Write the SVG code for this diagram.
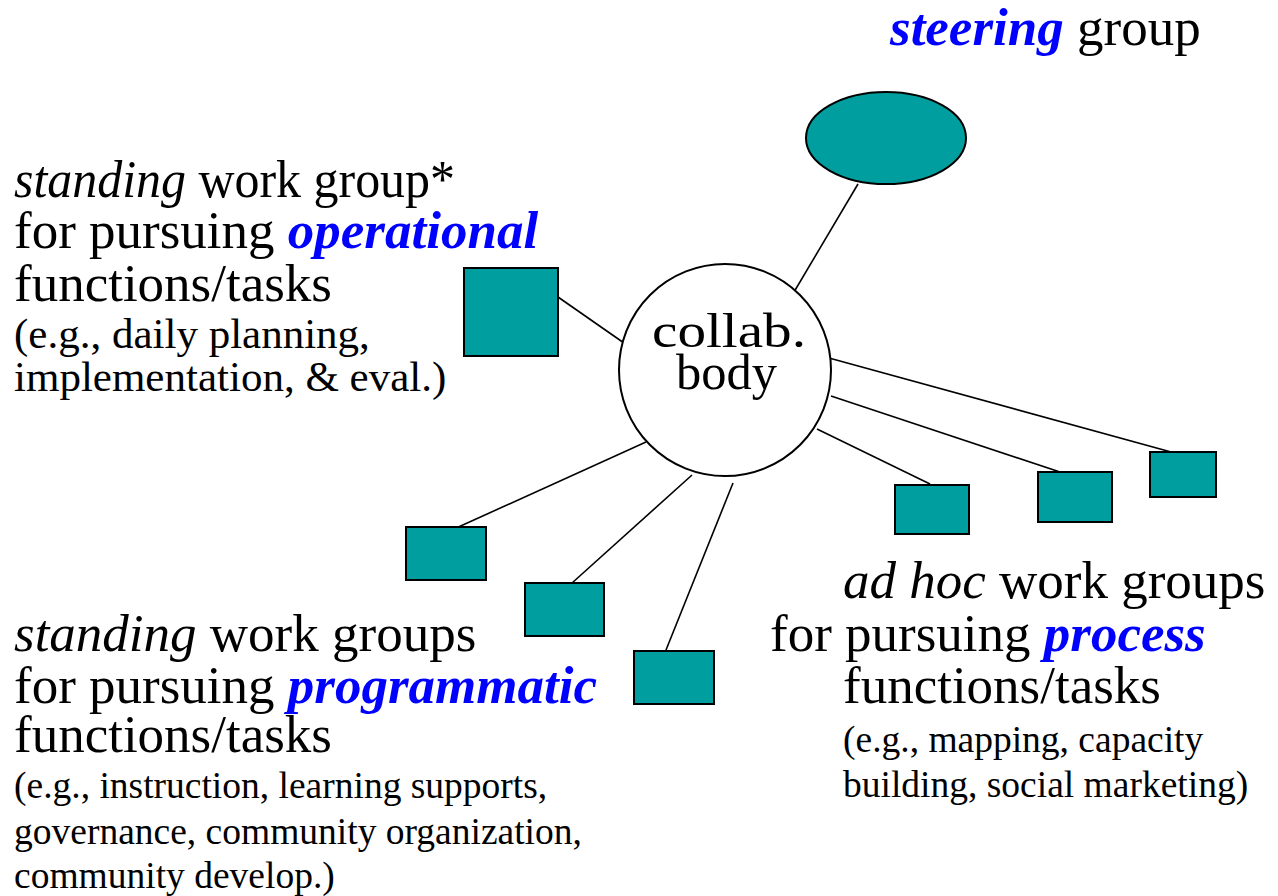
<svg xmlns="http://www.w3.org/2000/svg" width="1278" height="896" viewBox="0 0 1278 896">
<style>
.t{font-family:"Liberation Serif","Times New Roman",serif;fill:#000}
.big{font-size:53px}
.small{font-size:43px}
.small2{font-size:37.5px}
.i{font-style:italic}
.bi{font-style:italic;font-weight:bold;fill:#0000FF}
.box{fill:#009E9E;stroke:#000;stroke-width:2}
.ln{stroke:#000;stroke-width:1.6;fill:none}
</style>
<rect width="1278" height="896" fill="#fff"/>
<g id="connectors">
<line class="ln" x1="858" y1="184" x2="794" y2="292"/>
<line class="ln" x1="558" y1="297" x2="624" y2="343"/>
<line class="ln" x1="646" y1="442" x2="454" y2="529"/>
<line class="ln" x1="692" y1="475" x2="572" y2="583"/>
<line class="ln" x1="733" y1="483" x2="666" y2="650"/>
<line class="ln" x1="817" y1="429" x2="930" y2="484"/>
<line class="ln" x1="831" y1="396" x2="1060" y2="472"/>
<line class="ln" x1="829" y1="358" x2="1182" y2="455"/>
</g>
<g id="steering">
<ellipse class="box" cx="886" cy="138" rx="80" ry="46"/>
<text class="t big" x="890" y="45"><tspan class="bi">steering</tspan> group</text>
</g>
<g id="collab">
<circle cx="725" cy="370" r="106" fill="#fff" stroke="#000" stroke-width="2"/>
<text class="t" font-size="48" x="652" y="347" textLength="154" lengthAdjust="spacingAndGlyphs">collab.</text>
<text class="t" font-size="50" x="676" y="389" textLength="101" lengthAdjust="spacingAndGlyphs">body</text>
</g>
<g id="operational">
<rect class="box" x="464" y="268" width="94" height="88"/>
<text class="t big" x="14" y="197" textLength="441" lengthAdjust="spacingAndGlyphs"><tspan class="i">standing</tspan> work group*</text>
<text class="t big" x="14" y="248">for pursuing <tspan class="bi">operational</tspan></text>
<text class="t big" x="14" y="301">functions/tasks</text>
<text class="t small" x="14" y="348">(e.g., daily planning,</text>
<text class="t small" x="14" y="391">implementation, &amp; eval.)</text>
</g>
<g id="programmatic">
<rect class="box" x="406" y="527" width="80" height="53"/>
<rect class="box" x="525" y="583" width="79" height="53"/>
<rect class="box" x="634" y="651" width="80" height="53"/>
<text class="t big" x="14" y="651"><tspan class="i">standing</tspan> work groups</text>
<text class="t big" x="14" y="703">for pursuing <tspan class="bi">programmatic</tspan></text>
<text class="t big" x="14" y="752">functions/tasks</text>
<text class="t small2" x="14" y="798">(e.g., instruction, learning supports,</text>
<text class="t small2" x="14" y="844">governance, community organization,</text>
<text class="t small2" x="14" y="888">community develop.)</text>
</g>
<g id="process">
<rect class="box" x="895" y="485" width="74" height="49"/>
<rect class="box" x="1038" y="472" width="74" height="50"/>
<rect class="box" x="1150" y="452" width="66" height="45"/>
<text class="t big" x="843" y="598"><tspan class="i">ad hoc</tspan> work groups</text>
<text class="t big" x="770" y="651">for pursuing <tspan class="bi">process</tspan></text>
<text class="t big" x="843" y="703">functions/tasks</text>
<text class="t small2" x="843" y="752">(e.g., mapping, capacity</text>
<text class="t small2" x="843" y="797">building, social marketing)</text>
</g>
</svg>
